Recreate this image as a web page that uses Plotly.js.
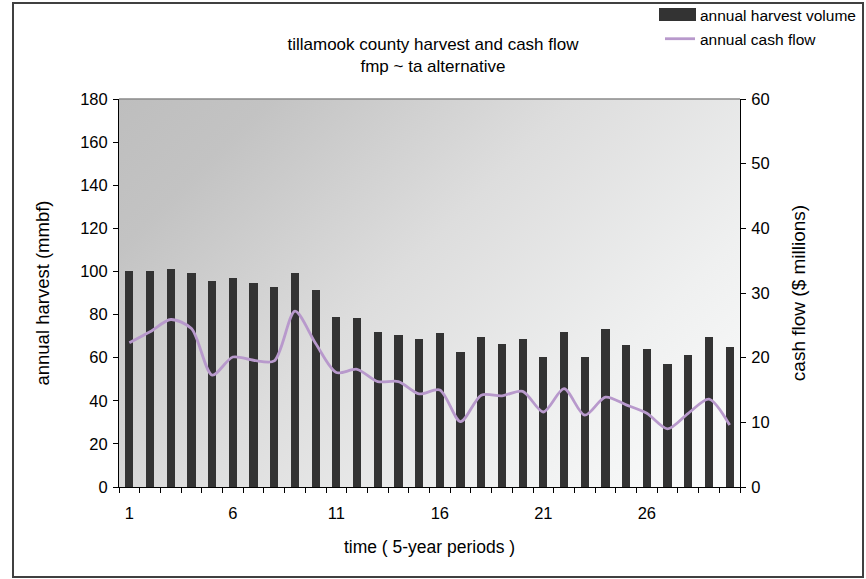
<!DOCTYPE html>
<html>
<head>
<meta charset="utf-8">
<script src="https://cdn.plot.ly/plotly-3.0.1.min.js"></script>
<style>
  html, body { margin: 0; padding: 0; background: #ffffff; }
  #chart { width: 866px; height: 579px; }
</style>
</head>
<body>
<div id="chart"></div>
<script>
// ---- data ----
const periods = [1,2,3,4,5,6,7,8,9,10,11,12,13,14,15,16,17,18,19,20,21,22,23,24,25,26,27,28,29,30];
const harvestVolume = [100.3,100.0,101.2,99.4,95.7,97.1,94.7,92.9,99.4,91.5,78.9,78.4,71.9,70.5,68.7,71.5,62.6,69.6,66.4,68.7,60.3,71.9,60.3,73.3,65.9,64.0,57.1,61.2,69.6,65.0];
const cashFlow = [22.3,24.0,25.9,24.5,17.3,20.1,19.6,19.5,27.2,22.2,17.7,18.2,16.3,16.3,14.4,15.0,10.1,14.2,14.1,14.8,11.6,15.2,11.1,13.9,12.7,11.4,9.0,11.4,13.6,9.6];
const xTickVals = [1,6,11,16,21,26];
const xTickText = ['1','6','11','16','21','26'];
const titleLines = ['tillamook county harvest and cash flow', 'fmp ~ ta alternative'];

// ---- gradient background for the plot area ----
function gradientURL() {
  const w = 621, h = 388;
  const c = document.createElement('canvas');
  c.width = w; c.height = h;
  const g = c.getContext('2d');
  const d = (w + h) / 2;
  const lg = g.createLinearGradient(0, 0, d, d);
  lg.addColorStop(0.0, '#bebebe');
  lg.addColorStop(0.15, '#c3c3c3');
  lg.addColorStop(0.45, '#dddddd');
  lg.addColorStop(0.75, '#eff0f0');
  lg.addColorStop(1.0, '#fbfcfc');
  g.fillStyle = lg;
  g.fillRect(0, 0, w, h);
  return c.toDataURL('image/png');
}

const FONT = 'Liberation Sans, Arial, sans-serif';
const py = v => (487 - v) / 388;   // pixel y -> paper y
const px = v => (v - 119) / 621;   // pixel x -> paper x

const traces = [
  {
    type: 'bar', name: 'annual harvest volume',
    x: periods, y: harvestVolume, width: 0.4,
    marker: { color: '#333333', line: { width: 0 } },
    legendgroup: 'a', hoverinfo: 'x+y'
  },
  {
    type: 'scatter', mode: 'lines', name: 'annual cash flow',
    x: periods, y: cashFlow, yaxis: 'y2',
    line: { color: '#b899cc', width: 2.8, shape: 'spline', smoothing: 0.8 },
    legendgroup: 'b', hoverinfo: 'x+y'
  }
];

const innerTick = { ticks: 'inside', ticklen: 5, tickcolor: '#000000', tickwidth: 1,
                    showticklabels: false, showline: false, showgrid: false, zeroline: false };

const layout = {
  width: 866, height: 579,
  margin: { l: 119, r: 126, t: 99, b: 92, pad: 0, autoexpand: false },
  paper_bgcolor: '#ffffff',
  plot_bgcolor: 'rgba(0,0,0,0)',
  font: { family: FONT, size: 16, color: '#000000' },
  title: {
    text: titleLines.join('<br>'),
    font: { family: FONT, size: 17, color: '#000000' },
    x: 0.5, xref: 'container', xanchor: 'center',
    y: 1 - 50 / 579, yref: 'container', yanchor: 'top'
  },
  showlegend: true,
  legend: {
    x: px(660), xanchor: 'left', y: py(-2), yanchor: 'top',
    font: { family: FONT, size: 15.5, color: '#000000' },
    bgcolor: 'rgba(0,0,0,0)', borderwidth: 0,
    traceorder: 'grouped', tracegroupgap: 1, itemwidth: 30
  },
  bargap: 0,
  xaxis: {
    range: [0.5, 30.5], type: 'linear',
    tickmode: 'array', tickvals: xTickVals, ticktext: xTickText,
    ticks: 'outside', ticklen: 5, tickcolor: 'rgba(0,0,0,0)',
    ticklabelstandoff: 6,
    minor: { tick0: 0.5, dtick: 1, ticks: 'outside', ticklen: 5, tickcolor: '#000000', tickwidth: 1, showgrid: false },
    showline: true, linecolor: '#000000', linewidth: 1,
    showgrid: false, zeroline: false,
    tickfont: { family: FONT, size: 16.5 },
    title: { text: 'time ( 5-year periods )', font: { family: FONT, size: 17.5 }, standoff: 19 }
  },
  xaxis2: Object.assign({}, innerTick, {
    overlaying: 'x', anchor: 'y', range: [0.5, 30.5], type: 'linear',
    tickmode: 'linear', tick0: 0.5, dtick: 1
  }),
  yaxis: {
    range: [0, 180], dtick: 20, tick0: 0,
    ticks: 'outside', ticklen: 5, tickcolor: '#000000',
    ticklabelstandoff: 2,
    showline: true, linecolor: '#000000', linewidth: 1,
    showgrid: false, zeroline: false,
    tickfont: { family: FONT, size: 16.5 },
    title: { text: 'annual harvest (mmbf)', font: { family: FONT, size: 18.5 }, standoff: 25 }
  },
  yaxis2: {
    range: [0, 60], dtick: 10, tick0: 0,
    overlaying: 'y', side: 'right',
    ticks: 'outside', ticklen: 5, tickcolor: '#000000',
    ticklabelstandoff: 2,
    showline: true, linecolor: '#000000', linewidth: 1,
    showgrid: false, zeroline: false,
    tickfont: { family: FONT, size: 16.5 },
    title: { text: 'cash flow ($ millions)', font: { family: FONT, size: 19 }, standoff: 23 }
  },
  yaxis3: Object.assign({}, innerTick, {
    overlaying: 'y', side: 'left', anchor: 'x', range: [0, 180], tickmode: 'linear', tick0: 0, dtick: 20
  }),
  yaxis4: Object.assign({}, innerTick, {
    overlaying: 'y', side: 'right', anchor: 'x', range: [0, 60], tickmode: 'linear', tick0: 0, dtick: 10
  }),
  images: [{
    source: gradientURL(), xref: 'paper', yref: 'paper',
    x: 0, y: 1, sizex: 1, sizey: 1, sizing: 'stretch',
    xanchor: 'left', yanchor: 'top', layer: 'below'
  }],
  shapes: [
    { type: 'line', xref: 'paper', yref: 'paper', x0: 0, x1: 1, y0: 1, y1: 1,
      line: { color: '#8a8a8a', width: 1.5 } },
    // wide legend swatch behind the bar legend symbol, as in the original
    { type: 'rect', xref: 'paper', yref: 'paper',
      x0: px(659), x1: px(696), y0: py(21), y1: py(8),
      line: { width: 0 }, fillcolor: '#333333', layer: 'below' },
    { type: 'rect', xref: 'paper', yref: 'paper',
      x0: px(13), x1: px(863), y0: py(577), y1: py(3),
      line: { color: '#404040', width: 2 }, fillcolor: 'rgba(0,0,0,0)', layer: 'above' }
  ]
};

Plotly.newPlot('chart', traces, layout, { displayModeBar: false, staticPlot: true });
</script>
</body>
</html>
